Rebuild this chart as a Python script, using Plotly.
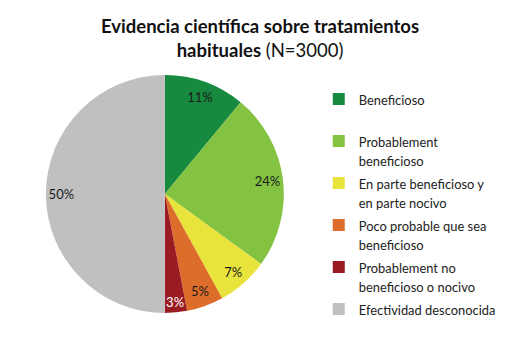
import plotly.graph_objects as go

categories = ["Beneficioso<br> ", "Probablement<br>beneficioso", "En parte beneficioso y<br>en parte nocivo",
              "Poco probable que sea<br>beneficioso", "Probablement no<br>beneficioso o nocivo",
              "Efectividad desconocida<br> "]
values = [11, 24, 7, 5, 3, 50]
colors = ["#178A3F", "#84C341", "#E9E43B", "#DD6D2A", "#9A1B21", "#C0C0C0"]
text_colors = ["#1a1a1a", "#1a1a1a", "#1a1a1a", "#1a1a1a", "#ffffff", "#1a1a1a"]

dom = dict(x=[0.088, 0.546], y=[0.116, 0.788])

legend_labels = [
    "<br>".join('<span style="font-size:12.9px">%s</span>' % part for part in c.split("<br>"))
    for c in categories
]

fig = go.Figure()
fig.add_trace(go.Pie(
    labels=legend_labels, values=values, sort=False, direction="clockwise", rotation=0,
    marker=dict(colors=colors, line=dict(width=0)),
    textinfo="none", domain=dom, hoverinfo="skip",
))
# transparent ring used only to place the percentage labels near the outer edge
fig.add_trace(go.Pie(
    labels=legend_labels, values=values, sort=False, direction="clockwise", rotation=0,
    hole=0.74, showlegend=False,
    marker=dict(colors=["rgba(0,0,0,0)"] * len(values), line=dict(width=0)),
    texttemplate="%{value}%", textposition="inside", insidetextorientation="horizontal",
    textfont=dict(family="Lato", size=13, color=text_colors),
    domain=dom, hoverinfo="skip",
))

fig.add_annotation(
    text="<b>Evidencia científica sobre tratamientos<br>habituales</b> (N=3000)",
    x=0.5, y=1 - 13 / 354, xref="paper", yref="paper", xanchor="center", yanchor="top",
    showarrow=False, font=dict(family="Lato", size=18.5, color="#111"),
)

fig.update_layout(
    width=520, height=354, margin=dict(l=0, r=0, t=0, b=0),
    paper_bgcolor="white", plot_bgcolor="white",
    uniformtext=dict(minsize=13, mode="show"),
    legend=dict(x=0.613, y=0.766, xanchor="left", yanchor="top", valign="top",
                font=dict(family="Lato", size=15, color="#222"), itemwidth=30,
                traceorder="normal"),
)
fig.write_html("out.html")
